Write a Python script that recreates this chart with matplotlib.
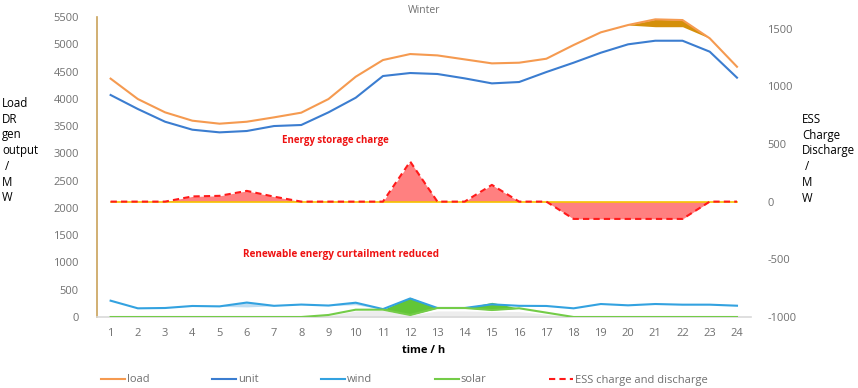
import matplotlib
matplotlib.use("Agg")
import matplotlib.pyplot as plt
from matplotlib.lines import Line2D
import numpy as np

plt.rcParams['font.family'] = ['Open Sans', 'DejaVu Sans']
plt.rcParams['axes.unicode_minus'] = False

hours = list(range(1, 25))
load = [4370, 3996, 3752, 3599, 3544, 3580, 3660, 3746, 3996, 4405, 4711, 4821,
        4796, 4723, 4650, 4662, 4735, 4986, 5219, 5353, 5457, 5444, 5109, 4588]
load_dr = [4370, 3996, 3752, 3599, 3544, 3580, 3660, 3746, 3996, 4405, 4711, 4821,
           4796, 4723, 4650, 4662, 4735, 4986, 5219, 5353, 5322, 5322, 5109, 4588]
unit = [4070, 3813, 3580, 3434, 3385, 3410, 3501, 3520, 3752, 4020, 4418, 4473,
        4455, 4375, 4283, 4308, 4491, 4662, 4845, 4999, 5065, 5065, 4864, 4388]
wind = [299, 159, 165, 202, 195, 265, 205, 228, 210, 262, 145, 340,
        165, 165, 232, 205, 202, 159, 238, 214, 238, 226, 226, 207]
wind_base = [299, 159, 165, 202, 195, 185, 205, 228, 210, 225, 145, 340,
             165, 165, 232, 205, 202, 159, 238, 214, 238, 226, 226, 207]
solar = [0, 0, 0, 0, 0, 0, 0, 0, 37, 134, 135, 360,
         165, 165, 269, 160, 80, 0, 0, 0, 0, 0, 0, 0]
solar_base = [0, 0, 0, 0, 0, 0, 0, 0, 37, 134, 135, 37,
              165, 165, 128, 160, 80, 0, 0, 0, 0, 0, 0, 0]
gray_area = [0, 0, 0, 0, 0, 0, 0, 0, 25, 110, 120, 37,
             110, 110, 100, 100, 50, 0, 0, 0, 0, 0, 0, 0]
ess = [0, 0, 0, 45, 50, 93, 43, 0, 0, 0, 0, 347,
       0, 0, 145, 0, 0, -150, -150, -150, -150, -150, 0, 0]

x_ticks = [str(h) for h in hours]
left_ticks = [0, 500, 1000, 1500, 2000, 2500, 3000, 3500, 4000, 4500, 5000, 5500]
right_ticks = [-1000, -500, 0, 500, 1000, 1500]

c_load = '#F59A50'
c_unit = '#3B7DD0'
c_wind = '#33A2E0'
c_solar = '#74CC48'
c_ess = '#FF1A1A'
c_tick = '#707070'

fig = plt.figure(figsize=(8.58, 3.88), dpi=100)
ax = fig.add_axes([97/858, 1-317/388, (750.6-97)/858, 300/388])
ax2 = ax.twinx()
ax.set_zorder(ax2.get_zorder() + 1)
ax.patch.set_visible(False)

x = np.array(hours)
# left axis series
ax.fill_between(x, 0, gray_area, color='#EDEDED', lw=0, zorder=1)
ax.fill_between(x, wind_base, wind, color='#BFDDF2', lw=0, zorder=2)
ax.fill_between(x, solar_base, solar, color='#62C636', lw=0, zorder=2)
ax.fill_between(x, load_dr, load, color='#D4900A', lw=0, zorder=2)
ax.plot(x, load, color=c_load, lw=1.5, zorder=3)
ax.plot(x, unit, color=c_unit, lw=1.5, zorder=3)
ax.plot(x, wind, color=c_wind, lw=1.5, zorder=3)
ax.plot(x, solar_base, color=c_solar, lw=1.5, zorder=3)
ax.set_xlim(0.5, 24.5)
ax.set_ylim(0, 5500)
ax.set_yticks(left_ticks)
ax.set_xticks(hours)
ax.set_xticklabels(x_ticks)

# right axis ESS
ax2.fill_between(x, 0, ess, color='#FF8080', lw=0, zorder=1)
ax2.plot(x, [0]*len(hours), color='#F5C400', lw=1.2, zorder=2)
ax2.plot(x, ess, color=c_ess, lw=1.5, ls=(0, (3, 2)), zorder=3)
ax2.set_ylim(-1000, 1600)
ax2.set_yticks(right_ticks)

for a in (ax, ax2):
    a.tick_params(length=0, labelsize=8, colors=c_tick)
    for s in a.spines.values():
        s.set_visible(False)
ax.tick_params(axis='y', pad=13)
ax.tick_params(axis='x', pad=8)
ax2.tick_params(axis='y', pad=12)
ax.spines['left'].set_visible(True)
ax.spines['left'].set_color('#C9A25A')
ax.spines['left'].set_linewidth(1.2)
ax.spines['bottom'].set_visible(True)
ax.spines['bottom'].set_color('#D9D9D9')
ax.spines['bottom'].set_linewidth(1.2)

ax.set_title('Winter', fontsize=7.5, color=c_tick, pad=3)
ax.set_xlabel('time / h', fontsize=8, fontweight='bold', labelpad=4)

fig.text(2/858, 1-97/388, 'Load\nDR\ngen\noutput\n /\nM\nW', fontsize=8.3,
         ha='left', va='top', linespacing=1.27)
fig.text(802/858, 1-113/388, 'ESS\nCharge\nDischarge\n /\nM\nW', fontsize=8.3,
         ha='left', va='top', linespacing=1.27)

ax.text(9.25, 3240, 'Energy storage charge', color='#EE1111', fontsize=7,
        fontweight='bold', ha='center', va='center')
ax.text(9.47, 1140, 'Renewable energy curtailment reduced', color='#EE1111',
        fontsize=7.2, fontweight='bold', ha='center', va='center')

handles = [Line2D([], [], color=c_load, lw=1.5),
           Line2D([], [], color=c_unit, lw=1.5),
           Line2D([], [], color=c_wind, lw=1.5),
           Line2D([], [], color=c_solar, lw=1.5),
           Line2D([], [], color=c_ess, lw=1.5, ls=(0, (3, 2)))]
labels = ['load', 'unit', 'wind', 'solar', 'ESS charge and discharge']
leg = fig.legend(handles, labels, loc='center left', ncol=5,
                 bbox_to_anchor=(101/858, 1-380/388), frameon=False,
                 fontsize=8, handlelength=2.2, handletextpad=0.15,
                 columnspacing=5.6, borderaxespad=0, borderpad=0)
for t in leg.get_texts():
    t.set_color(c_tick)

fig.savefig('out.png', dpi=100)
